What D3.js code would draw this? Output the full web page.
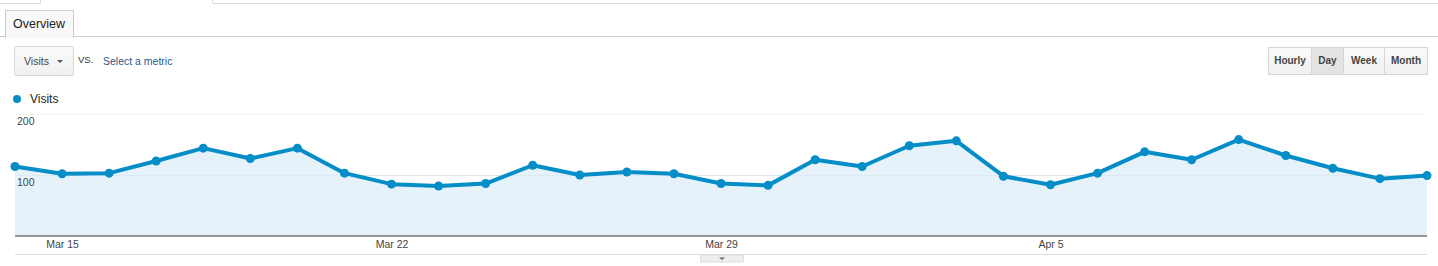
<!DOCTYPE html>
<html>
<head>
<meta charset="utf-8">
<script src="https://cdn.jsdelivr.net/npm/d3@7"></script>
<style>
  body { margin: 0; background: #fff; font-family: Arial, "Liberation Sans", sans-serif; }
  svg { display: block; }
</style>
</head>
<body>
<div id="chart"></div>
<script>
const width = 1438;
const height = 266;

// daily visits, Mar 14 .. Apr 13
const startDate = new Date(2013, 2, 14);
const visits = [114, 102, 103, 123, 144, 127, 144, 103, 85, 82, 86, 116, 100, 105, 102,
  86, 83, 125, 114, 148, 156, 98, 84, 103, 138, 125, 158, 132, 111, 94, 99];
const yTicks = [100, 200];
const xTickDates = ["2013-03-15", "2013-03-22", "2013-03-29", "2013-04-05"];
const periods = ["Hourly", "Day", "Week", "Month"];
const activePeriod = "Day";

const data = visits.map((v, i) => ({ date: d3.timeDay.offset(startDate, i), value: v }));

const plot = { left: 15, right: 1427, top: 114, bottom: 236 };

const svg = d3.select("#chart").append("svg")
  .attr("width", width).attr("height", height)
  .style("font-family", "Arial, 'Liberation Sans', sans-serif");

// --- top chrome ---
svg.append("path").attr("d", "M0,3.5H40.5V0").attr("fill", "none").attr("stroke", "#ddd");
svg.append("path").attr("d", `M212.5,0V3.5H${width}`).attr("fill", "none").attr("stroke", "#ddd");

svg.append("line").attr("x1", 0).attr("x2", width).attr("y1", 36.5).attr("y2", 36.5).attr("stroke", "#ccc");
svg.append("rect").attr("x", 5.5).attr("y", 10.5).attr("width", 68).attr("height", 27)
  .attr("fill", "#f8f8f8").attr("stroke", "#ccc");
svg.append("rect").attr("x", 6).attr("y", 36).attr("width", 67).attr("height", 2).attr("fill", "#f8f8f8");
svg.append("text").attr("x", 13).attr("y", 28).attr("font-size", 12.5).attr("fill", "#222").text("Overview");

// metric dropdown
const grad = svg.append("defs").append("linearGradient").attr("id", "btn").attr("x1", 0).attr("x2", 0).attr("y1", 0).attr("y2", 1);
grad.append("stop").attr("offset", "0%").attr("stop-color", "#fafafa");
grad.append("stop").attr("offset", "100%").attr("stop-color", "#f0f0f0");

svg.append("rect").attr("x", 14.5).attr("y", 46.5).attr("width", 59).attr("height", 29).attr("rx", 2)
  .attr("fill", "url(#btn)").attr("stroke", "#d6d6d6");
svg.append("text").attr("x", 24).attr("y", 65).attr("font-size", 10.5).attr("fill", "#444").text("Visits");
svg.append("path").attr("d", "M57,60h6l-3,3z").attr("fill", "#555");
svg.append("text").attr("x", 78).attr("y", 63).attr("font-size", 9.5).attr("fill", "#333").text("VS.");
svg.append("text").attr("x", 103).attr("y", 65).attr("font-size", 10.5).attr("fill", "#2a5a88").text("Select a metric");

// period buttons
const btnX = d3.scaleOrdinal().domain(periods).range([1268, 1311, 1343, 1384]);
const btnW = { Hourly: 43, Day: 32, Week: 41, Month: 43 };
const btns = svg.append("g").selectAll("g").data(periods).join("g")
  .attr("transform", d => `translate(${btnX(d)},47)`);
btns.append("rect").attr("x", 0.5).attr("y", 0.5).attr("width", d => btnW[d]).attr("height", 27)
  .attr("fill", d => d === activePeriod ? "#e3e3e3" : "url(#btn)").attr("stroke", "#d6d6d6");
btns.append("text").attr("x", d => btnW[d] / 2 + 0.5).attr("y", 17).attr("text-anchor", "middle")
  .attr("font-size", 10).attr("font-weight", "bold").attr("fill", "#444").text(d => d);

// legend
svg.append("circle").attr("cx", 17).attr("cy", 99).attr("r", 4).attr("fill", "#058dc7");
svg.append("text").attr("x", 30).attr("y", 103).attr("font-size", 12).attr("fill", "#222").text("Visits");

// --- chart ---
const x = d3.scaleTime()
  .domain(d3.extent(data, d => d.date))
  .range([plot.left, plot.right]);
const y = d3.scaleLinear().domain([0, 200]).range([plot.bottom, plot.top]);

// gridlines
svg.append("g").selectAll("line").data(yTicks).join("line")
  .attr("x1", plot.left).attr("x2", plot.right)
  .attr("y1", d => Math.round(y(d)) + 0.5).attr("y2", d => Math.round(y(d)) + 0.5)
  .attr("stroke", d => d === 200 ? "#f3f3f3" : "#e6e6e6");

const area = d3.area().x(d => x(d.date)).y0(y(0)).y1(d => y(d.value));
const line = d3.line().x(d => x(d.date)).y(d => y(d.value));

svg.append("path").datum(data).attr("d", area).attr("fill", "#e6f2f9");
svg.append("g").selectAll("line").data(yTicks).join("line")
  .attr("x1", plot.left).attr("x2", plot.right)
  .attr("y1", d => Math.round(y(d)) + 0.5).attr("y2", d => Math.round(y(d)) + 0.5)
  .attr("stroke", "#d8e4ec").attr("stroke-opacity", d => d === 100 ? 0.6 : 0);

svg.append("path").datum(data).attr("d", line)
  .attr("fill", "none").attr("stroke", "#058dc7").attr("stroke-width", 4).attr("stroke-linejoin", "round");
svg.append("g").selectAll("circle").data(data).join("circle")
  .attr("cx", d => x(d.date)).attr("cy", d => y(d.value)).attr("r", 4.5).attr("fill", "#058dc7");

// y labels (drawn inside plot, below gridline)
svg.append("g").selectAll("text").data(yTicks).join("text")
  .attr("x", 17).attr("y", d => y(d) + (d === 200 ? 11 : 11))
  .attr("font-size", 10.5).attr("fill", "#444").text(d => d);

// baseline / x axis
const xAxis = d3.axisBottom(x)
  .tickValues(xTickDates.map(s => d3.timeParse("%Y-%m-%d")(s)))
  .tickFormat(d3.timeFormat("%b %-d"))
  .tickSize(0).tickPadding(5);
const gx = svg.append("g").attr("transform", `translate(0,${plot.bottom - 0.5})`).call(xAxis);
gx.select(".domain").attr("stroke", "#333").attr("d", `M${plot.left},0.5H${plot.right}`);
gx.selectAll("text").attr("font-size", 10.5).attr("fill", "#444")
  .attr("font-family", "Arial, 'Liberation Sans', sans-serif");

svg.append("line").attr("x1", plot.left).attr("x2", plot.right).attr("y1", 254.5).attr("y2", 254.5).attr("stroke", "#ddd");
svg.append("rect").attr("x", 700.5).attr("y", 255).attr("width", 43).attr("height", 7)
  .attr("fill", "#eee").attr("stroke", "#ddd");
svg.append("path").attr("d", "M719,257.5h6l-3,2.5z").attr("fill", "#666");
</script>
</body>
</html>
